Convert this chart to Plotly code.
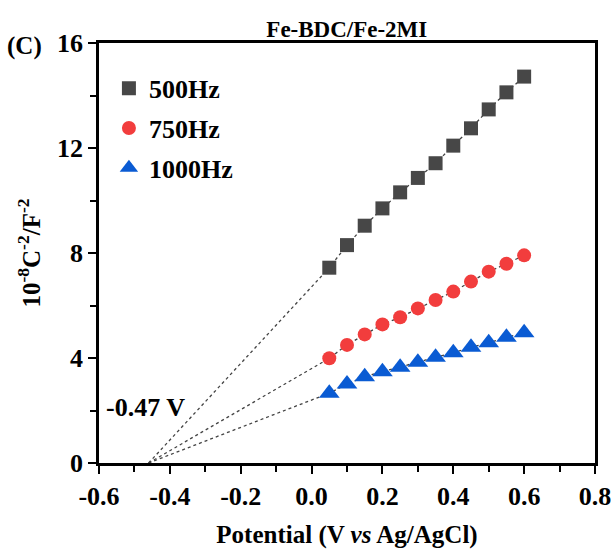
import plotly.graph_objects as go

potential = [0.05, 0.10, 0.15, 0.20, 0.25, 0.30, 0.35, 0.40, 0.45, 0.50, 0.55, 0.60]
hz500 = [7.44, 8.30, 9.04, 9.70, 10.31, 10.86, 11.42, 12.09, 12.75, 13.47, 14.12, 14.72]
hz750 = [3.99, 4.50, 4.90, 5.28, 5.55, 5.89, 6.21, 6.53, 6.91, 7.29, 7.59, 7.91]
hz1000 = [2.66, 3.01, 3.29, 3.48, 3.65, 3.84, 4.03, 4.20, 4.41, 4.58, 4.79, 4.96]
series_names = ["500Hz", "750Hz", "1000Hz"]
x_intercept = -0.46
x_ticks = [-0.6, -0.4, -0.2, 0.0, 0.2, 0.4, 0.6, 0.8]
x_tick_labels = ["-0.6", "-0.4", "-0.2", "0.0", "0.2", "0.4", "0.6", "0.8"]
y_ticks = [0, 4, 8, 12, 16]
y_tick_labels = ["0", "4", "8", "12", "16"]

FONT = "Liberation Serif"
colors = ["#474747", "#f23d3d", "#0a5bd3"]
symbols = ["square", "circle", "triangle-up"]
sizes = [14, 14, 18]

fig = go.Figure()
for name, ys in zip(series_names, [hz500, hz750, hz1000]):
    fig.add_trace(go.Scatter(
        x=[x_intercept] + potential, y=[0] + ys, mode="lines",
        line=dict(color="#444444", width=1.3, dash="dot"),
        showlegend=False, hoverinfo="skip"))

for i, (name, ys) in enumerate(zip(series_names, [hz500, hz750, hz1000])):
    fig.add_trace(go.Scatter(
        x=potential, y=ys, mode="markers", name=f"<b>{name}</b>", legendgroup=name,
        marker=dict(symbol=symbols[i], size=sizes[i], color=colors[i],
                    line=dict(width=0))))

axis_common = dict(
    showgrid=False, zeroline=False, showline=True, linecolor="black",
    linewidth=2.5, mirror=True, ticks="outside", ticklen=8, tickwidth=2,
    tickcolor="black", automargin=False,
    tickfont=dict(family=FONT, size=26, color="black"),
)

fig.update_xaxes(
    range=[-0.6, 0.8], tickvals=x_ticks,
    ticktext=[f"<b>{t}</b>" for t in x_tick_labels],
    minor=dict(dtick=0.1, ticks="outside", ticklen=6, tickwidth=2, tickcolor="black"),
    title=dict(text="<b>Potential (V <i>vs</i> Ag/AgCl)</b>",
               font=dict(family=FONT, size=25, color="black"), standoff=16),
    **axis_common)
fig.update_yaxes(
    range=[0, 16], tickvals=y_ticks,
    ticktext=[f"<b>{t}</b>" for t in y_tick_labels],
    minor=dict(dtick=2, ticks="outside", ticklen=6, tickwidth=2, tickcolor="black"),
    title=dict(text="<b>10<sup>-8</sup>C<sup>-2</sup>/F<sup>-2</sup></b>",
               font=dict(family=FONT, size=25, color="black"), standoff=10),
    **axis_common)

fig.update_layout(
    width=616, height=552,
    margin=dict(l=99, r=21, t=43, b=89, autoexpand=False),
    paper_bgcolor="white", plot_bgcolor="white",
    font=dict(family=FONT, color="black"),
    title=dict(text="<b>Fe-BDC/Fe-2MI</b>", x=0.563, xanchor="center",
               y=0.948, yanchor="middle",
               font=dict(family=FONT, size=23, color="black")),
    legend=dict(x=0.02, y=0.948, xanchor="left", yanchor="top",
                bgcolor="rgba(0,0,0,0)", font=dict(family=FONT, size=26, color="black"),
                tracegroupgap=3, traceorder="grouped"),
    annotations=[
        dict(text="<b>(C)</b>", xref="paper", yref="paper", x=-0.19, y=0.992,
             xanchor="left", yanchor="middle", showarrow=False,
             font=dict(family=FONT, size=25, color="black")),
        dict(text="<b>-0.47 V</b>", xref="x", yref="y", x=-0.585, y=2.1,
             xanchor="left", yanchor="middle", showarrow=False,
             font=dict(family=FONT, size=26, color="black")),
    ],
)

fig.write_html("out.html")
